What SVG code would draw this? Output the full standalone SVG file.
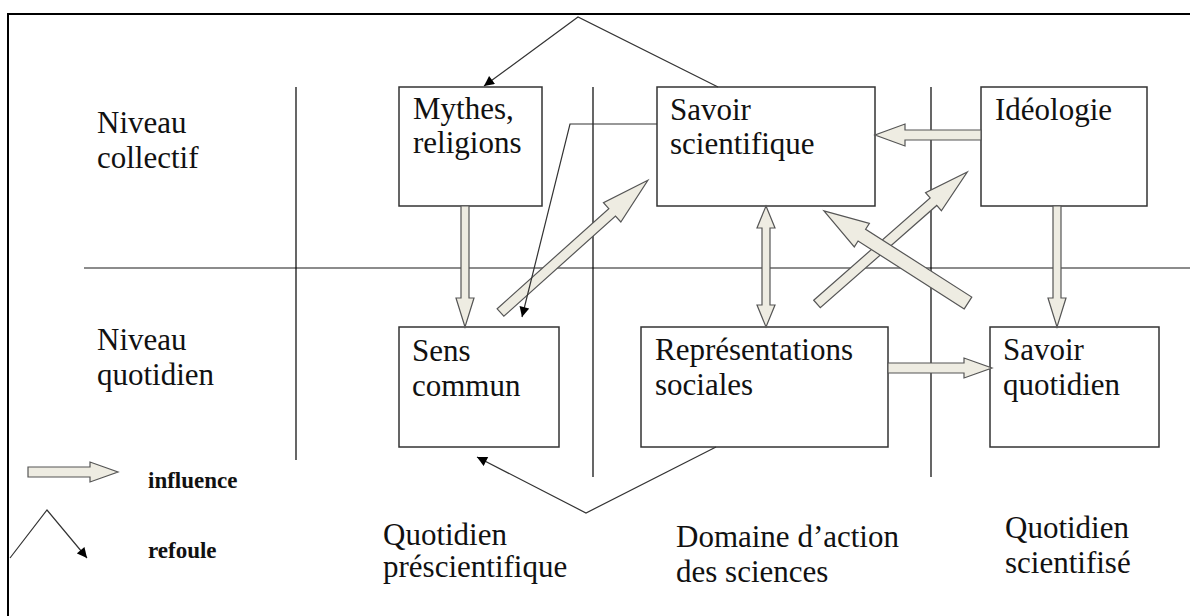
<svg xmlns="http://www.w3.org/2000/svg" width="1190" height="616" viewBox="0 0 1190 616">
<style>
.bg{fill:#ffffff}
.frame{fill:none;stroke:#000;stroke-width:2}
.grid{fill:none;stroke:#000;stroke-width:1.2}
.hgrid{fill:none;stroke:#666;stroke-width:1.6}
.box{fill:#fff;stroke:#333;stroke-width:1.5}
.t{font-family:"Liberation Serif","Times New Roman",serif;font-size:31px;fill:#111}
.lg{font-family:"Liberation Serif","Times New Roman",serif;font-size:23px;font-weight:bold;fill:#111}
.fat{fill:#eeece2;stroke:#555;stroke-width:1.2;stroke-linejoin:miter}
.ref{fill:none;stroke:#333;stroke-width:1.2}
</style>
<defs>
<marker id="ah" viewBox="0 0 10 10" refX="10" refY="5" markerWidth="11" markerHeight="10" markerUnits="userSpaceOnUse" orient="auto">
<path d="M0,0 L10,5 L0,10 z" fill="#000"/>
</marker>
</defs>
<rect class="bg" x="0" y="0" width="1190" height="616"/>
<g id="frame">
<path class="frame" d="M8,616 L8,14 L1190,14"/>
</g>
<g id="gridlines">
<line class="hgrid" x1="84" y1="268" x2="1190" y2="268"/>
<line class="grid" x1="296" y1="87" x2="296" y2="460"/>
<line class="grid" x1="593" y1="87" x2="593" y2="477"/>
<line class="grid" x1="931" y1="87" x2="931" y2="477"/>
</g>
<g id="labels">
<text class="t" x="97" y="133">Niveau</text>
<text class="t" x="97" y="168">collectif</text>
<text class="t" x="97" y="350">Niveau</text>
<text class="t" x="97" y="385">quotidien</text>
<text class="t" x="383" y="545">Quotidien</text>
<text class="t" x="383" y="577">préscientifique</text>
<text class="t" x="676" y="547">Domaine d’action</text>
<text class="t" x="676" y="582">des sciences</text>
<text class="t" x="1005" y="538">Quotidien</text>
<text class="t" x="1005" y="573">scientifisé</text>
</g>
<g id="node-mythes">
<rect class="box" x="399" y="87" width="143" height="119"/>
<text class="t" x="413" y="119">Mythes,</text>
<text class="t" x="413" y="153">religions</text>
</g>
<g id="node-savoir-scientifique">
<rect class="box" x="657" y="87" width="218" height="119"/>
<text class="t" x="670" y="120">Savoir</text>
<text class="t" x="670" y="154">scientifique</text>
</g>
<g id="node-ideologie">
<rect class="box" x="981" y="87" width="166" height="119"/>
<text class="t" x="995" y="120">Idéologie</text>
</g>
<g id="node-sens-commun">
<rect class="box" x="399" y="327" width="160" height="120"/>
<text class="t" x="412" y="361">Sens</text>
<text class="t" x="412" y="396">commun</text>
</g>
<g id="node-representations">
<rect class="box" x="641" y="327" width="247" height="120"/>
<text class="t" x="655" y="360">Représentations</text>
<text class="t" x="655" y="395">sociales</text>
</g>
<g id="node-savoir-quotidien">
<rect class="box" x="990" y="327" width="169" height="120"/>
<text class="t" x="1003" y="360">Savoir</text>
<text class="t" x="1003" y="395">quotidien</text>
</g>
<g id="connectors">
<polygon class="fat" points="0,-4 92,-4 92,-9 121,0 92,9 92,4 0,4" transform="translate(465,206) rotate(90)"/>
<polygon class="fat" points="0,0 22,-9 22,-4 99,-4 99,-9 121,0 99,9 99,4 22,4 22,9" transform="translate(766,206) rotate(90)"/>
<polygon class="fat" points="0,-5 76,-5 76,-11 106,0 76,11 76,5 0,5" transform="translate(981,135) rotate(180)"/>
<polygon class="fat" points="0,-4 92,-4 92,-9 121,0 92,9 92,4 0,4" transform="translate(1057,206) rotate(90)"/>
<polygon class="fat" points="0,-5 76,-5 76,-10 104,0 76,10 76,5 0,5" transform="translate(888,368)"/>
<polygon class="fat" points="0,-5 150,-5 150,-13 198,0 150,13 150,5 0,5" transform="translate(500.5,312.5) rotate(-41.9)"/>
<polygon class="fat" points="0,-5 155,-5 155,-12 200,0 155,12 155,5 0,5" transform="translate(817,304) rotate(-41.3)"/>
<polygon class="fat" points="0,-7 126,-7 126,-14 171,0 126,14 126,7 0,7" transform="translate(968,303) rotate(-147.4)"/>
<polyline class="ref" points="718,87 578,17 484,86" marker-end="url(#ah)"/>
<polyline class="ref" points="657,124 570,124 522,317" marker-end="url(#ah)"/>
<polyline class="ref" points="716,447 586,513 477,457" marker-end="url(#ah)"/>
</g>
<g id="legend">
<polygon class="fat" points="28,467 90,467 90,462 118,472 90,482 90,477 28,477"/>
<text class="lg" x="148" y="488">influence</text>
<polyline class="ref" points="10,558 47,510 87,558" marker-end="url(#ah)"/>
<text class="lg" x="148" y="558">refoule</text>
</g>
</svg>
